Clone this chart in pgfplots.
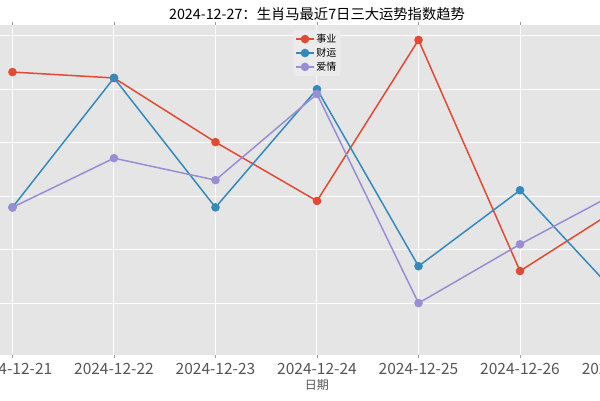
\documentclass[border=0pt]{standalone}
\usepackage{fontspec}
\setmainfont{Noto Sans CJK SC}
\usepackage{pgfplots}
\pgfplotsset{compat=1.18}
\definecolor{cred}{HTML}{E24A33}
\definecolor{cblue}{HTML}{348ABD}
\definecolor{cpurple}{HTML}{988ED5}
\definecolor{bg}{HTML}{E5E5E5}
\definecolor{tickc}{HTML}{555555}
\begin{document}
\begin{tikzpicture}[x=1pt,y=1pt]
\useasboundingbox (0,0) rectangle (600,400);
\clip (0,0) rectangle (600,400);
\begin{axis}[
  at={(-18pt,45pt)}, anchor=south west,
  scale only axis, width=670pt, height=330pt,
  xmin=-0.3, xmax=6.3, ymin=40.3, ymax=102.0,
  axis background/.style={fill=bg},
  axis line style={draw=none},
  grid=major,
  major grid style={white, line width=1pt},
  xtick={0,...,6},
  xticklabels={2024-12-21,2024-12-22,2024-12-23,2024-12-24,2024-12-25,2024-12-26,2024-12-27},
  ytick={50,60,70,80,90,100},
  yticklabels={},
  tick align=outside,
  major tick length=3pt,
  tick style={tickc!60, line width=0.6pt},
  x tick label style={font=\fontsize{15.5}{15.5}\selectfont, text=tickc, yshift=-2pt},
  xlabel={日期},
  xlabel style={font=\fontsize{12}{12}\selectfont, text=tickc, yshift=2pt},
  title={2024-12-27：生肖马最近7日三大运势指数趋势},
  title style={font=\fontsize{14.3}{14.3}\selectfont, at={(0.5,1)}, anchor=south, yshift=-5pt},
  every axis plot/.append style={line width=1.5pt, mark=*, mark size=3.5pt},
  legend style={at={(0.5,0.985)}, anchor=north, fill=black!8, draw=none, rounded corners=2pt,
    font=\fontsize{10}{12}\selectfont, row sep=0pt, inner sep=2pt},
  legend cell align=left,
  legend image post style={line width=1.5pt},
]
\addplot[cred, mark options={fill=cred, draw=cred}] coordinates {(0,93.2)(1,92.1)(2,80.1)(3,69.1)(4,99.2)(5,56.0)(6,68.1)};
\addlegendentry{事业}
\addplot[cblue, mark options={fill=cblue, draw=cblue}] coordinates {(0,67.9)(1,92.1)(2,67.9)(3,90.0)(4,56.9)(5,71.1)(6,50.7)};
\addlegendentry{财运}
\addplot[cpurple, mark options={fill=cpurple, draw=cpurple}] coordinates {(0,67.9)(1,77.1)(2,73.0)(3,89.1)(4,50.0)(5,61.0)(6,71.1)};
\addlegendentry{爱情}
\end{axis}
\end{tikzpicture}
\end{document}
